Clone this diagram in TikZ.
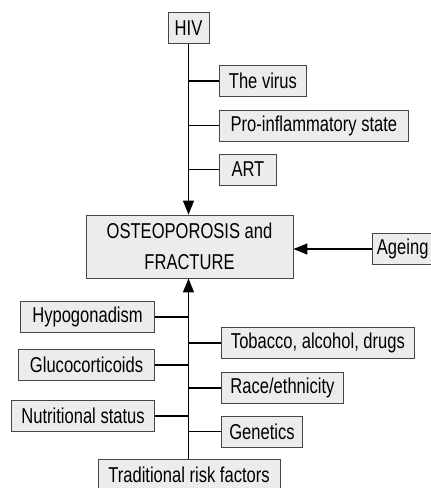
\documentclass[tikz,border=0pt]{standalone}
\usepackage{fontspec}
\setmainfont{Liberation Sans}[FakeStretch=0.77]
\usepackage{tikz}
\usetikzlibrary{arrows.meta, positioning}
\definecolor{boxfill}{RGB}{236,236,236}
\definecolor{boxline}{RGB}{70,70,70}
\tikzset{
	factor/.style={draw=boxline, line width=0.9pt, fill=boxfill, minimum height=31pt, inner xsep=4pt, inner ysep=0pt, font=\fontsize{21.5}{24}\selectfont},
	wire/.style={line width=1.2pt},
	feed/.style={line width=1.2pt, -{Triangle[length=14pt, width=11pt]}}
}
\begin{document}
\begin{tikzpicture}[x=1pt, y=-1pt]
			% Frame and boxes:
			\useasboundingbox (0, 0) rectangle (431, 488);
			\clip (0, 0) rectangle (431, 488);
			\node[factor, minimum width=41pt, inner xsep=0pt](HIV) at (188.5, 28){HIV};
			\node[factor, minimum width=207pt, minimum height=63pt, align=center, font=\fontsize{21.5}{31}\selectfont](OST) at (189.5, 246.5){OSTEOPOROSIS and\\FRACTURE};
			\node[factor, anchor=west, inner xsep=4.5pt](AGE) at (372, 249){Ageing};
			\node[factor, minimum width=182pt](TRF) at (189, 474.5){Traditional risk factors};
			\node[factor, anchor=west, minimum width=87pt](VIR) at (219, 81){The virus};
			\node[factor, anchor=west, minimum width=189pt](PRO) at (219, 125.5){Pro-inflammatory state};
			\node[factor, anchor=west, minimum width=57pt](ART) at (219, 169.5){ART};
			\node[factor, anchor=west, minimum width=193pt](TOB) at (221, 343){Tobacco, alcohol, drugs};
			\node[factor, anchor=west, minimum width=122pt](RAC) at (221, 388){Race/ethnicity};
			\node[factor, anchor=west, minimum width=81pt](GEN) at (221, 431.5){Genetics};
			\node[factor, anchor=east, minimum width=134pt](HYP) at (155, 317){Hypogonadism};
			\node[factor, anchor=east, minimum width=136pt](GLU) at (155, 365){Glucocorticoids};
			\node[factor, anchor=east, minimum width=143pt](NUT) at (155, 416){Nutritional status};
			% Arrows and branches:
			\draw[feed] (HIV.south) -- (HIV.south |- OST.north);
			\draw[feed] (TRF.north -| HIV.south) -- (HIV.south |- OST.south);
			\draw[feed] (AGE.west) -- (OST.east |- AGE.west);
			\draw[wire] (VIR.west) -- (VIR.west -| HIV.south);
			\draw[wire] (PRO.west) -- (PRO.west -| HIV.south);
			\draw[wire] (ART.west) -- (ART.west -| HIV.south);
			\draw[wire] (TOB.west) -- (TOB.west -| HIV.south);
			\draw[wire] (RAC.west) -- (RAC.west -| HIV.south);
			\draw[wire] (GEN.west) -- (GEN.west -| HIV.south);
			\draw[wire] (HYP.east) -- (HYP.east -| HIV.south);
			\draw[wire] (GLU.east) -- (GLU.east -| HIV.south);
			\draw[wire] (NUT.east) -- (NUT.east -| HIV.south);
		\end{tikzpicture}
\end{document}
